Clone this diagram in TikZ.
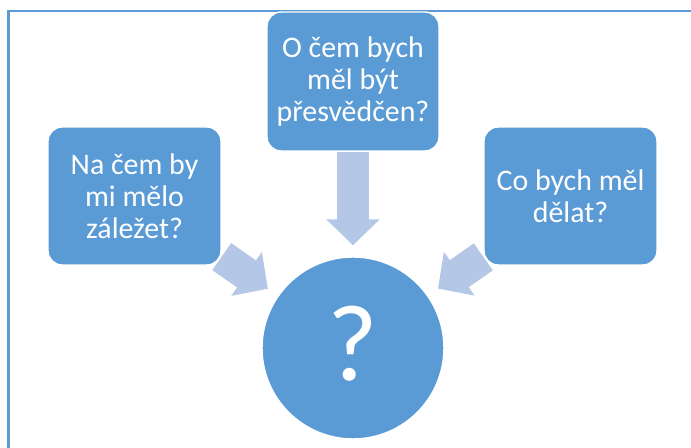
\documentclass[tikz,border=0pt]{standalone}
\usepackage{fontspec}
\setmainfont{Carlito}
\usetikzlibrary{arrows.meta, positioning, backgrounds}
\definecolor{boxblue}{RGB}{91,155,213}
\definecolor{arrowblue}{RGB}{180,199,231}

\begin{document}
\begin{tikzpicture}[x=0.02cm, y=-0.02cm,
  box/.style={rectangle, rounded corners=0.28cm, fill=boxblue, draw=white, line width=0.8pt,
    text=white, align=center, minimum width=3.46cm, minimum height=2.76cm,
    font=\fontsize{17}{18.3}\selectfont},
  fat/.style={arrowblue, line width=0.66cm, -{Triangle[width=1.04cm, length=0.52cm]}}]
\useasboundingbox (0,0) rectangle (691,448);
% frame
\draw [boxblue, line width=0.045cm] (8.5,448) -- (8.5,10.7) -- (691,10.7);

% nodes
\node [box] (care) at (134.5, 196) {Na čem by\\mi mělo\\záležet?};
\node [box, minimum width=3.44cm, minimum height=2.78cm] (belief) at (353, 81.5) {O čem bych\\měl být\\přesvědčen?};
\node [box] (act) at (570.5, 196) {Co bych měl\\dělat?};

\node [circle, fill=boxblue, draw=white, line width=0.8pt, minimum size=3.64cm, inner sep=0pt,
  text=white, font=\fontsize{62}{62}\selectfont] (q) at (353, 348) {\raisebox{0.2cm}{?}};

% arrows
\begin{scope}[on background layer]
\draw [fat, shorten >=0.22cm] (belief) -- (q);
\draw [fat, shorten >=0.24cm] (care) -- (q);
\draw [fat, shorten >=0.24cm] (act) -- (q);
\end{scope}
\end{tikzpicture}
\end{document}
